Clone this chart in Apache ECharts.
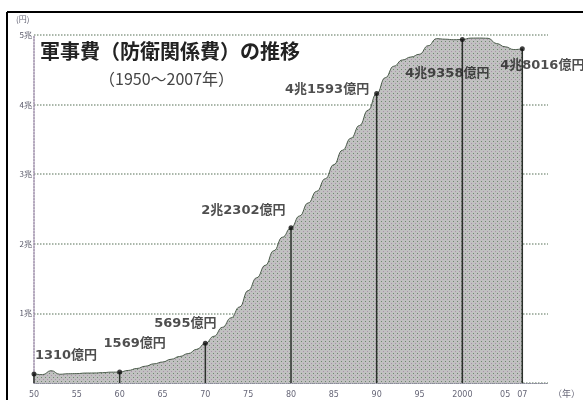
<!DOCTYPE html>
<html>
<head>
<meta charset="utf-8">
<script src="https://cdn.jsdelivr.net/npm/echarts@6/dist/echarts.min.js"></script>
<style>
  html, body { margin: 0; padding: 0; background: #fff; }
  #chart { width: 583px; height: 400px; }
</style>
</head>
<body>
<div id="chart"></div>
<script>
// 防衛関係費の推移（億円）
const years = [
  1950, 1951, 1952, 1953, 1954, 1955, 1956, 1957, 1958, 1959,
  1960, 1961, 1962, 1963, 1964, 1965, 1966, 1967, 1968, 1969,
  1970, 1971, 1972, 1973, 1974, 1975, 1976, 1977, 1978, 1979,
  1980, 1981, 1982, 1983, 1984, 1985, 1986, 1987, 1988, 1989,
  1990, 1991, 1992, 1993, 1994, 1995, 1996, 1997, 1998, 1999,
  2000, 2001, 2002, 2003, 2004, 2005, 2006, 2007
];
const budget = [
  1310, 1200, 1771, 1257, 1327, 1349, 1429, 1435, 1485, 1560,
  1569, 1803, 2085, 2412, 2751, 3014, 3407, 3809, 4221, 4838,
  5695, 6709, 8002, 9355, 10930, 13273, 15124, 16906, 19010, 20945,
  22302, 24000, 25861, 27542, 29346, 31371, 33435, 35174, 37003, 39198,
  41593, 43860, 45518, 46406, 46835, 47236, 48455, 49475, 49397, 49322,
  49358, 49553, 49560, 49530, 48764, 48301, 47906, 48016
];

// 注記する年
const markYears = [1950, 1960, 1970, 1980, 1990, 2000, 2007];
const markLabels = ['1310億円', '1569億円', '5695億円', '2兆2302億円', '4兆1593億円', '4兆9358億円', '4兆8016億円'];

// 目盛
const xTickYears = [1950, 1955, 1960, 1965, 1970, 1975, 1980, 1985, 1990, 1995, 2000, 2005, 2007];
const xTickText = ['50', '55', '60', '65', '70', '75', '80', '85', '90', '95', '2000', '05', '07'];
const yTickText = ['', '1兆', '2兆', '3兆', '4兆', '5兆'];

const markValue = y => budget[years.indexOf(y)];

// 網点のパターン
function dotPattern() {
  const c = document.createElement('canvas');
  c.width = 4; c.height = 4;
  const g = c.getContext('2d');
  g.fillStyle = '#c1c1c1';
  g.fillRect(0, 0, 4, 4);
  g.fillStyle = '#6f876f';
  g.fillRect(1, 1, 1, 1);
  g.fillStyle = '#ab93ab';
  g.fillRect(3, 3, 1, 1);
  return c;
}

const labelPos = {
  1950: { position: 'top', offset: [32, -4] },
  1960: { position: 'top', offset: [15, -14] },
  1970: { position: 'top', offset: [-20, -6] },
  1980: { position: 'left', offset: [2, -17] },
  1990: { position: 'left', offset: [0, -4] },
  2000: { position: 'bottom', offset: [-15, 20] },
  2007: { position: 'bottom', offset: [20, 3] }
};

const chart = echarts.init(document.getElementById('chart'));
const cjk = '"Noto Sans CJK JP", sans-serif';
const numFont = '"DejaVu Sans", "Noto Sans CJK JP", sans-serif';

chart.setOption({
  animation: false,
  grid: { left: 34, right: 35, top: 35, bottom: 17 },
  xAxis: {
    type: 'value',
    min: 1950,
    max: 2010,
    axisLine: { show: true, lineStyle: { color: '#8a8a9a', type: 'dotted', width: 1 } },
    axisTick: { show: false },
    splitLine: { show: false },
    axisLabel: {
      customValues: xTickYears,
      formatter: v => xTickText[xTickYears.indexOf(v)],
      fontSize: 8,
      color: '#667',
      fontFamily: numFont,
      margin: 8
    }
  },
  yAxis: {
    type: 'value',
    min: 0,
    max: 50000,
    interval: 10000,
    axisLine: { show: true, lineStyle: { color: '#9a8aa6', type: 'dotted', width: 1.5 } },
    axisTick: { show: false },
    splitLine: { show: true, lineStyle: { color: '#8fa08f', type: 'dotted', width: 1.5 } },
    axisLabel: {
      formatter: v => yTickText[v / 10000],
      fontSize: 8,
      color: '#556',
      fontFamily: cjk,
      margin: 2
    }
  },
  series: [
    {
      type: 'line',
      data: years.map((y, i) => [y, budget[i]]),
      smooth: 0.5,
      smoothMonotone: 'x',
      symbol: 'none',
      lineStyle: { color: '#4a5a4a', width: 1 },
      areaStyle: { color: { image: dotPattern(), repeat: 'repeat' }, opacity: 1 },
      z: 2
    },
    {
      type: 'bar',
      data: markYears.map(y => [y, markValue(y)]),
      barWidth: 1.5,
      itemStyle: { color: '#2a2f2a' },
      z: 3
    },
    {
      type: 'scatter',
      data: markYears.map((y, i) => ({
        value: [y, markValue(y)],
        label: {
          show: true,
          formatter: markLabels[i],
          position: labelPos[y].position,
          offset: labelPos[y].offset
        }
      })),
      symbol: 'circle',
      symbolSize: 5,
      itemStyle: { color: '#111' },
      label: {
        fontSize: 13,
        fontWeight: 'bold',
        color: '#222',
        fontFamily: numFont
      },
      z: 4
    }
  ],
  graphic: [
    { type: 'line', shape: { x1: 7, y1: 12, x2: 583, y2: 12 }, style: { stroke: '#000', lineWidth: 2 } },
    { type: 'line', shape: { x1: 7, y1: 12, x2: 7, y2: 400 }, style: { stroke: '#000', lineWidth: 2 } },
    { type: 'text', left: 40, top: 41, style: { text: '軍事費（防衛関係費）の推移', font: 'bold 20px ' + cjk, fill: '#222' } },
    { type: 'text', left: 99, top: 71, style: { text: '（1950〜2007年）', font: '16px ' + cjk, fill: '#444' } },
    { type: 'text', left: 16, top: 15, style: { text: '(円)', font: '8px ' + cjk, fill: '#667' } },
    { type: 'text', left: 553, top: 389, style: { text: '（年）', font: '9px ' + cjk, fill: '#667' } }
  ]
});
</script>
</body>
</html>
